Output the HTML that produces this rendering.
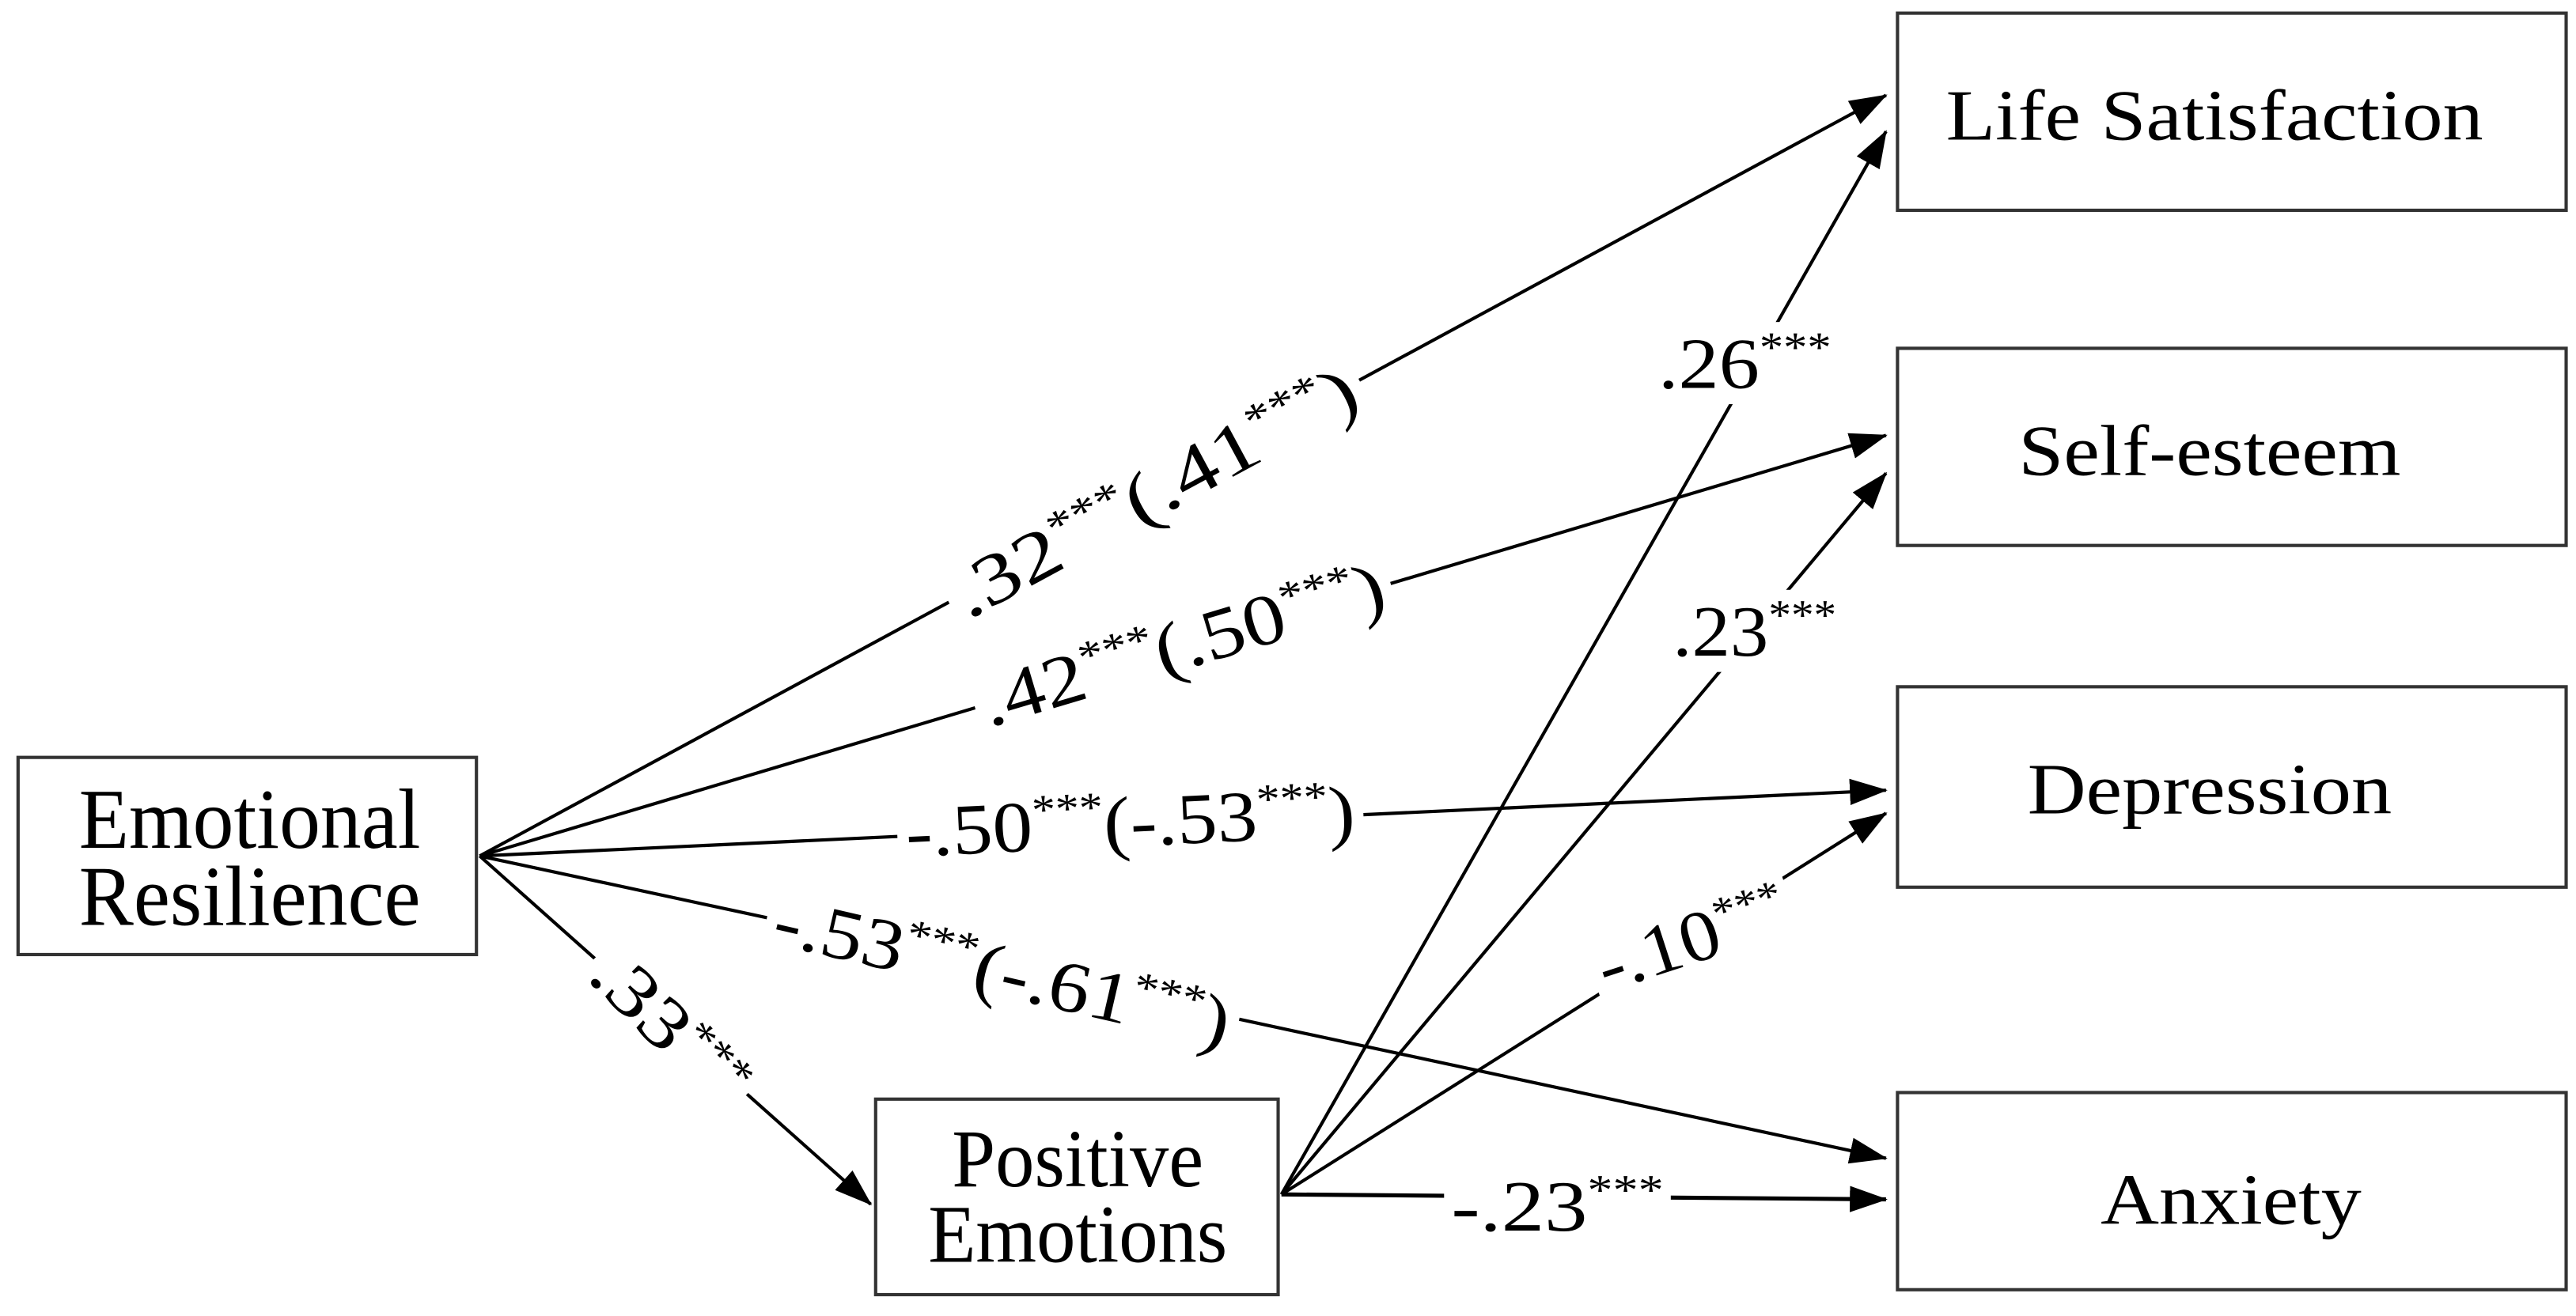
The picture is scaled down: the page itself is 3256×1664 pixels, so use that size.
<!DOCTYPE html>
<html><head><meta charset="utf-8"><style>
html,body{margin:0;padding:0;background:#fff;}
svg{display:block;}
text{font-family:"Liberation Serif",serif;fill:#000;}
.lbl{font-size:44px;}
.sup{font-size:26px;}
</style></head><body>
<svg width="3256" height="1664" viewBox="0 0 1568 801" preserveAspectRatio="none" xmlns="http://www.w3.org/2000/svg">
<defs>
<marker id="a" markerUnits="userSpaceOnUse" markerWidth="24" markerHeight="18" refX="22" refY="8" orient="auto">
<path d="M0,0 L23,8 L0,16 Z" fill="#000"/>
</marker>
</defs>
<g stroke="#000" stroke-width="2" fill="none" marker-end="url(#a)">
<line x1="292" y1="521" x2="1148" y2="58"/>
<line x1="292" y1="521" x2="1148" y2="265"/>
<line x1="292" y1="521" x2="1148" y2="481"/>
<line x1="292" y1="521" x2="1148" y2="705"/>
<line x1="292" y1="521" x2="530" y2="733"/>
<line x1="780" y1="727" x2="1148" y2="80"/>
<line x1="780" y1="727" x2="1148" y2="288"/>
<line x1="780" y1="727" x2="1148" y2="495"/>
<line x1="780" y1="727" x2="1148" y2="730" stroke-width="2.5"/>
</g>
<g fill="#fff" stroke="#333" stroke-width="2">
<rect x="11" y="461" width="279" height="120"/>
<rect x="533" y="669" width="245" height="119"/>
<rect x="1155" y="8" width="407" height="120"/>
<rect x="1155" y="212" width="407" height="120"/>
<rect x="1155" y="418" width="407" height="122"/>
<rect x="1155" y="665" width="407" height="120"/>
</g>
<g text-anchor="middle">
<text font-size="52" transform="translate(152 516) scale(0.96 1)">Emotional</text>
<text font-size="52" transform="translate(152 563) scale(0.96 1)">Resilience</text>
<text font-size="50" transform="translate(656 722) scale(0.95 1)">Positive</text>
<text font-size="50" transform="translate(656 768) scale(0.95 1)">Emotions</text>
<text font-size="44" transform="translate(1348 85) scale(1.12 1)">Life Satisfaction</text>
<text font-size="44" transform="translate(1345 289) scale(1.12 1)">Self-esteem</text>
<text font-size="44" transform="translate(1345 495) scale(1.12 1)">Depression</text>
<text font-size="44" transform="translate(1358 745) scale(1.12 1)">Anxiety</text>
</g>
<g text-anchor="middle">
<g transform="translate(703 300) rotate(-28.4)"><rect x="-142" y="-26" width="284" height="50" fill="#fff"/>
<text class="lbl" y="14" transform="scale(1.26 1)">.32<tspan class="sup" dy="-16">***</tspan><tspan dy="16">(.41</tspan><tspan class="sup" dy="-16">***</tspan><tspan dy="16">)</tspan></text></g>
<g transform="translate(720 393) rotate(-16.6)"><rect x="-132" y="-26" width="264" height="50" fill="#fff"/>
<text class="lbl" y="14" transform="scale(1.17 1)">.42<tspan class="sup" dy="-16">***</tspan><tspan dy="16">(.50</tspan><tspan class="sup" dy="-16">***</tspan><tspan dy="16">)</tspan></text></g>
<g transform="translate(688 501) rotate(-2.7)"><rect x="-142" y="-26" width="284" height="50" fill="#fff"/>
<text class="lbl" y="14" transform="scale(1.11 1)">-.50<tspan class="sup" dy="-16">***</tspan><tspan dy="16">(-.53</tspan><tspan class="sup" dy="-16">***</tspan><tspan dy="16">)</tspan></text></g>
<g transform="translate(610 592) rotate(13)"><rect x="-147" y="-26" width="294" height="50" fill="#fff"/>
<text class="lbl" y="14" transform="scale(1.15 1)">-.53<tspan class="sup" dy="-16">***</tspan><tspan dy="16">(-.61</tspan><tspan class="sup" dy="-16">***</tspan><tspan dy="16">)</tspan></text></g>
<g transform="translate(407 626) rotate(45)"><rect x="-62" y="-26" width="124" height="50" fill="#fff"/>
<text class="lbl" y="14" transform="scale(1.22 1)">.33<tspan class="sup" dy="-16">***</tspan></text></g>
<g transform="translate(1062 222)"><rect x="-56" y="-26" width="112" height="50" fill="#fff"/>
<text class="lbl" y="14" transform="scale(1.12 1)">.26<tspan class="sup" dy="-16">***</tspan></text></g>
<g transform="translate(1068 385)"><rect x="-54" y="-26" width="108" height="50" fill="#fff"/>
<text class="lbl" y="14" transform="scale(1.06 1)">.23<tspan class="sup" dy="-16">***</tspan></text></g>
<g transform="translate(1030 572) rotate(-18)"><rect x="-64" y="-26" width="128" height="50" fill="#fff"/>
<text class="lbl" y="14" transform="scale(1.1 1)">-.10<tspan class="sup" dy="-16">***</tspan></text></g>
<g transform="translate(948 735)"><rect x="-69" y="-26" width="138" height="50" fill="#fff"/>
<text class="lbl" y="14" transform="scale(1.19 1)">-.23<tspan class="sup" dy="-16">***</tspan></text></g>
</g>
</svg>
</body></html>
